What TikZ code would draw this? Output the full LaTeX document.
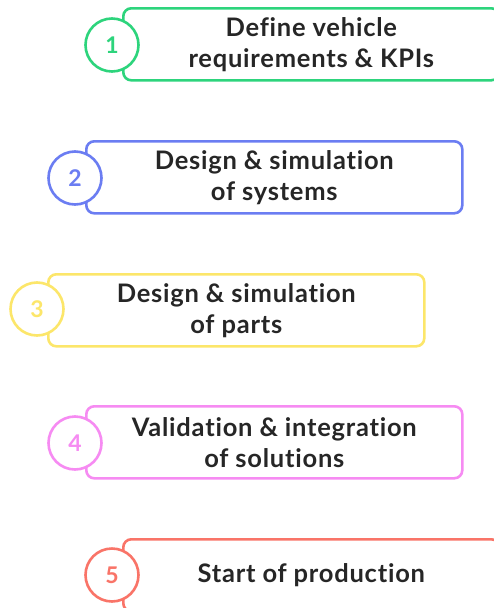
\documentclass[tikz,border=0pt]{standalone}
\usepackage{fontspec}
\setmainfont[Ligatures={NoCommon},LetterSpace=3]{Lato}
\begin{document}
\begin{tikzpicture}[x=1pt,y=-1pt,
  stepbox/.style={draw=#1,line width=2.6pt,rounded corners=8pt,minimum width=376pt,minimum height=72pt,
    anchor=north west,align=center,font=\bfseries\fontsize{25.5}{31}\selectfont,text=black!85,inner sep=0pt},
  numcirc/.style={draw=#1,fill=white,line width=2.6pt,circle,minimum size=53pt,inner sep=0pt,
    text=#1,font=\bfseries\fontsize{23}{23}\selectfont}]
\definecolor{cgreen}{HTML}{2DD47C}
\definecolor{cblue}{HTML}{6B7DF2}
\definecolor{cyellow}{HTML}{FCE66A}
\definecolor{cpink}{HTML}{F68BF2}
\definecolor{cred}{HTML}{F97468}
\useasboundingbox (0,0) rectangle (493,608);
\node[stepbox=cgreen] (b1) at (122,7) {Define vehicle\\requirements \& KPIs};
\node[stepbox=cblue] (b2) at (85,140) {Design \& simulation\\of systems};
\node[stepbox=cyellow] (b3) at (47,273) {Design \& simulation\\of parts};
\node[stepbox=cpink] (b4) at (85,405) {Validation \& integration\\of solutions};
\node[stepbox=cred] (b5) at (122,538) {Start of production};
\node[numcirc=cgreen] (c1) at (112,45) {1};
\node[numcirc=cblue] (c2) at (75,178) {2};
\node[numcirc=cyellow] (c3) at (37,309) {3};
\node[numcirc=cpink] (c4) at (75,443) {4};
\node[numcirc=cred] (c5) at (112,575) {5};
\end{tikzpicture}
\end{document}
